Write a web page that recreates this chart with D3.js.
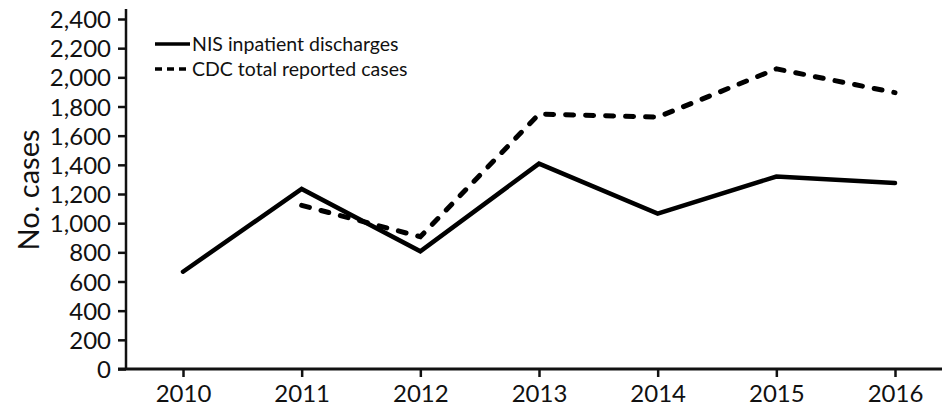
<!DOCTYPE html>
<html>
<head>
<meta charset="UTF-8">
<script src="https://cdnjs.cloudflare.com/ajax/libs/d3/7.8.5/d3.min.js"></script>
<style>
  body { margin: 0; background: #fff; }
  svg text { font-family: "Lato", "Open Sans", sans-serif; fill: #111; }
  .axis text { font-size: 24px; }
  .axis line, .axis path { stroke: #111; stroke-width: 2.5; }
</style>
</head>
<body>
<div id="chart"></div>
<script>
// data
var years = [2010, 2011, 2012, 2013, 2014, 2015, 2016];
var nisDischarges = [667, 1235, 807, 1408, 1065, 1320, 1275];
var cdcYears = [2011, 2012, 2013, 2014, 2015, 2016];
var cdcReported = [1122, 907, 1748, 1727, 2058, 1895];
var yTicks = [0, 200, 400, 600, 800, 1000, 1200, 1400, 1600, 1800, 2000, 2200, 2400];
var seriesNames = ["NIS inpatient discharges", "CDC total reported cases"];

var width = 942, height = 407;
var x0 = 126, xEnd = 942, yBase = 369, yTop = 9;

var svg = d3.select("#chart").append("svg")
  .attr("width", width)
  .attr("height", height);

var x = d3.scaleLinear().domain([2010, 2016]).range([183, 895]);
var y = d3.scaleLinear().domain([0, 2400]).range([yBase, 19]);

// y axis
var yAxis = svg.append("g")
  .attr("class", "axis")
  .attr("transform", "translate(" + x0 + ",0)")
  .call(d3.axisLeft(y).tickValues(yTicks).tickFormat(d3.format(",")).tickSize(8).tickSizeOuter(0).tickPadding(7));
yAxis.select(".domain").remove();
yAxis.selectAll("text").attr("dy", "0.36em");
svg.append("line")
  .attr("x1", x0).attr("x2", x0)
  .attr("y1", yTop).attr("y2", yBase + 1)
  .attr("stroke", "#111").attr("stroke-width", 2.5);

// x axis
var xAxis = svg.append("g")
  .attr("class", "axis")
  .attr("transform", "translate(0," + yBase + ")")
  .call(d3.axisBottom(x).tickValues(years).tickFormat(d3.format("d")).tickSize(8).tickSizeOuter(0).tickPadding(8));
xAxis.select(".domain").remove();
svg.append("line")
  .attr("x1", x0 - 8).attr("x2", xEnd)
  .attr("y1", yBase).attr("y2", yBase)
  .attr("stroke", "#111").attr("stroke-width", 3);

// y title
svg.append("text")
  .attr("transform", "translate(29," + 190 + ") rotate(-90)")
  .attr("text-anchor", "middle")
  .attr("dy", "0.35em")
  .style("font-size", "29px")
  .text("No. cases");

var line = d3.line()
  .x(function(d) { return x(d.year); })
  .y(function(d) { return y(d.value); });

var nisData = years.map(function(yr, i) { return { year: yr, value: nisDischarges[i] }; });
var cdcData = cdcYears.map(function(yr, i) { return { year: yr, value: cdcReported[i] }; });

svg.append("path")
  .datum(cdcData)
  .attr("d", line)
  .attr("fill", "none")
  .attr("stroke", "#000")
  .attr("stroke-width", 5)
  .attr("stroke-linecap", "round")
  .attr("stroke-dasharray", "8,12");

svg.append("path")
  .datum(nisData)
  .attr("d", line)
  .attr("fill", "none")
  .attr("stroke", "#000")
  .attr("stroke-width", 4.5)
  .attr("stroke-linejoin", "miter")
  .attr("stroke-linecap", "round");

// legend
var legend = svg.append("g");
var legendRows = [
  { name: seriesNames[0], dash: null, y: 44 },
  { name: seriesNames[1], dash: "7,5", y: 69 }
];
legendRows.forEach(function(r) {
  legend.append("line")
    .attr("x1", 155).attr("x2", 190)
    .attr("y1", r.y).attr("y2", r.y)
    .attr("stroke", "#000")
    .attr("stroke-width", 3.5)
    .attr("stroke-dasharray", r.dash);
  legend.append("text")
    .attr("x", 192).attr("y", r.y)
    .attr("dy", "0.35em")
    .style("font-size", "19.5px")
    .text(r.name);
});
</script>
</body>
</html>
